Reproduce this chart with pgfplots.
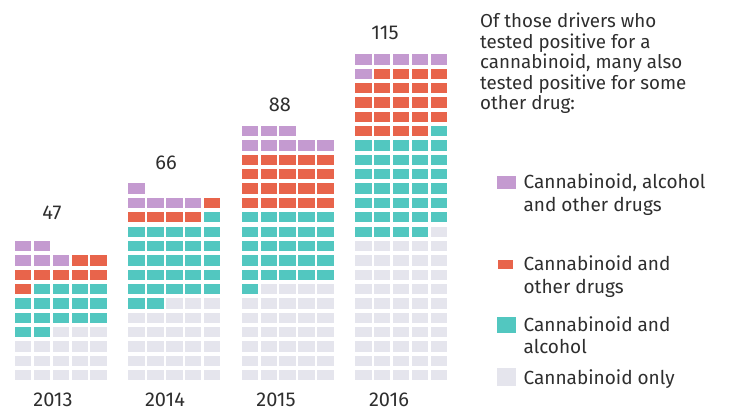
\documentclass[border=0pt]{standalone}
\usepackage{fontspec}
\setmainfont{Fira Sans}
\usepackage{pgfplots}
\pgfplotsset{compat=1.18}

\definecolor{cpurple}{HTML}{C49AD0}
\definecolor{corange}{HTML}{E8644B}
\definecolor{cteal}{HTML}{52C7C0}
\definecolor{cgrey}{HTML}{E5E5ED}
\definecolor{ctext}{HTML}{2E2E2E}

% one waffle cell per coordinate: x = 6*year + column, y = row
\pgfplotsset{
  cell/.style={color=#1, only marks, mark=square*, mark size=7.75pt,
    mark options={draw=none, fill=#1, yscale=0.6}, forget plot},
}

\begin{document}
\begin{tikzpicture}
\begin{axis}[
  scale only axis, width=731pt, height=411pt,
  xmin=-0.2037, xmax=38.474, ymin=-1.507, ymax=27.114,
  hide axis, clip=false,
  legend cell align=left,
  legend style={at={(0.6799,0.5767)}, anchor=north west, draw=none, fill=none,
    font=\fontsize{19}{22.5}\selectfont, text=ctext,
    row sep=12.5pt, column sep=8pt, inner sep=0pt,
    nodes={align=left, inner sep=0pt}},
]
% Cannabinoid only
\addplot[cell=cgrey] coordinates {
  (1,1)(2,1)(3,1)(4,1)(5,1) (1,2)(2,2)(3,2)(4,2)(5,2) (1,3)(2,3)(3,3)(4,3)(5,3)
  (3,4)(4,4)(5,4)
  (7,1)(8,1)(9,1)(10,1)(11,1) (7,2)(8,2)(9,2)(10,2)(11,2) (7,3)(8,3)(9,3)(10,3)(11,3)
  (7,4)(8,4)(9,4)(10,4)(11,4) (7,5)(8,5)(9,5)(10,5)(11,5) (9,6)(10,6)(11,6)
  (13,1)(14,1)(15,1)(16,1)(17,1) (13,2)(14,2)(15,2)(16,2)(17,2) (13,3)(14,3)(15,3)(16,3)(17,3)
  (13,4)(14,4)(15,4)(16,4)(17,4) (13,5)(14,5)(15,5)(16,5)(17,5) (13,6)(14,6)(15,6)(16,6)(17,6)
  (14,7)(15,7)(16,7)(17,7)
  (19,1)(20,1)(21,1)(22,1)(23,1) (19,2)(20,2)(21,2)(22,2)(23,2) (19,3)(20,3)(21,3)(22,3)(23,3)
  (19,4)(20,4)(21,4)(22,4)(23,4) (19,5)(20,5)(21,5)(22,5)(23,5) (19,6)(20,6)(21,6)(22,6)(23,6)
  (19,7)(20,7)(21,7)(22,7)(23,7) (19,8)(20,8)(21,8)(22,8)(23,8) (19,9)(20,9)(21,9)(22,9)(23,9)
  (19,10)(20,10)(21,10)(22,10)(23,10) (23,11)
};
% Cannabinoid and alcohol
\addplot[cell=cteal] coordinates {
  (1,4)(2,4) (1,5)(2,5)(3,5)(4,5)(5,5) (1,6)(2,6)(3,6)(4,6)(5,6) (2,7)(3,7)(4,7)(5,7)
  (7,6)(8,6) (7,7)(8,7)(9,7)(10,7)(11,7) (7,8)(8,8)(9,8)(10,8)(11,8) (7,9)(8,9)(9,9)(10,9)(11,9)
  (7,10)(8,10)(9,10)(10,10)(11,10) (7,11)(8,11)(9,11)(10,11)(11,11) (11,12)
  (13,7) (13,8)(14,8)(15,8)(16,8)(17,8) (13,9)(14,9)(15,9)(16,9)(17,9) (13,10)(14,10)(15,10)(16,10)(17,10)
  (13,11)(14,11)(15,11)(16,11)(17,11) (13,12)(14,12)(15,12)(16,12)(17,12)
  (19,11)(20,11)(21,11)(22,11) (19,12)(20,12)(21,12)(22,12)(23,12) (19,13)(20,13)(21,13)(22,13)(23,13)
  (19,14)(20,14)(21,14)(22,14)(23,14) (19,15)(20,15)(21,15)(22,15)(23,15) (19,16)(20,16)(21,16)(22,16)(23,16)
  (19,17)(20,17)(21,17)(22,17)(23,17) (23,18)
};
% Cannabinoid and other drugs
\addplot[cell=corange] coordinates {
  (1,7) (1,8)(2,8)(3,8)(4,8)(5,8) (4,9)(5,9)
  (7,12)(8,12)(9,12)(10,12) (11,13)
  (13,13)(14,13)(15,13)(16,13)(17,13) (13,14)(14,14)(15,14)(16,14)(17,14)
  (13,15)(14,15)(15,15)(16,15)(17,15) (13,16)(14,16)(15,16)(16,16)(17,16)
  (19,18)(20,18)(21,18)(22,18) (19,19)(20,19)(21,19)(22,19)(23,19) (19,20)(20,20)(21,20)(22,20)(23,20)
  (19,21)(20,21)(21,21)(22,21)(23,21) (20,22)(21,22)(22,22)(23,22)
};
% Cannabinoid, alcohol and other drugs
\addplot[cell=cpurple] coordinates {
  (1,9)(2,9)(3,9) (1,10)(2,10)
  (7,13)(8,13)(9,13)(10,13) (7,14)
  (13,17)(14,17)(15,17)(16,17)(17,17) (13,18)(14,18)(15,18)
  (19,22) (19,23)(20,23)(21,23)(22,23)(23,23)
};

\addlegendimage{legend image code/.code={\fill[cpurple] (0pt,5.5pt) rectangle (18pt,17.5pt);}}
\addlegendentry{Cannabinoid, alcohol\\and other drugs}
\addlegendimage{empty legend}
\addlegendentry{\rule{0pt}{16.5pt}}
\addlegendimage{legend image code/.code={\fill[corange] (1pt,7.5pt) rectangle (15pt,15.5pt); \path (0pt,-28.5pt);}}
\addlegendentry{Cannabinoid and\\other drugs}
\addlegendimage{legend image code/.code={\fill[cteal] (0pt,4pt) rectangle (18pt,19pt);}}
\addlegendentry{Cannabinoid and\\alcohol}
\addlegendimage{legend image code/.code={\fill[cgrey] (0pt,-7pt) rectangle (18pt,10pt);}}
\addlegendentry{Cannabinoid only}

% totals above the columns
\begin{scope}[every node/.style={font=\fontsize{20}{22}\selectfont, text=ctext, inner sep=0pt}]
\node at (rel axis cs:0.0711,0.4818) {47};
\node at (rel axis cs:0.2271,0.6034) {66};
\node at (rel axis cs:0.3830,0.7445) {88};
\node at (rel axis cs:0.5267,0.9197) {115};
% years
\node at (rel axis cs:0.0725,0.027) {2013};
\node at (rel axis cs:0.2257,0.027) {2014};
\node at (rel axis cs:0.3776,0.027) {2015};
\node at (rel axis cs:0.5321,0.027) {2016};
% note
\node[anchor=north west, align=left, font=\fontsize{18.75}{20.5}\selectfont]
  at (rel axis cs:0.6566,0.9684)
  {Of those drivers who\\tested positive for a\\cannabinoid, many also\\tested positive for some\\other drug:};
\end{scope}
\end{axis}
\path (current axis.south west) rectangle (current axis.north east);
\end{tikzpicture}
\end{document}
